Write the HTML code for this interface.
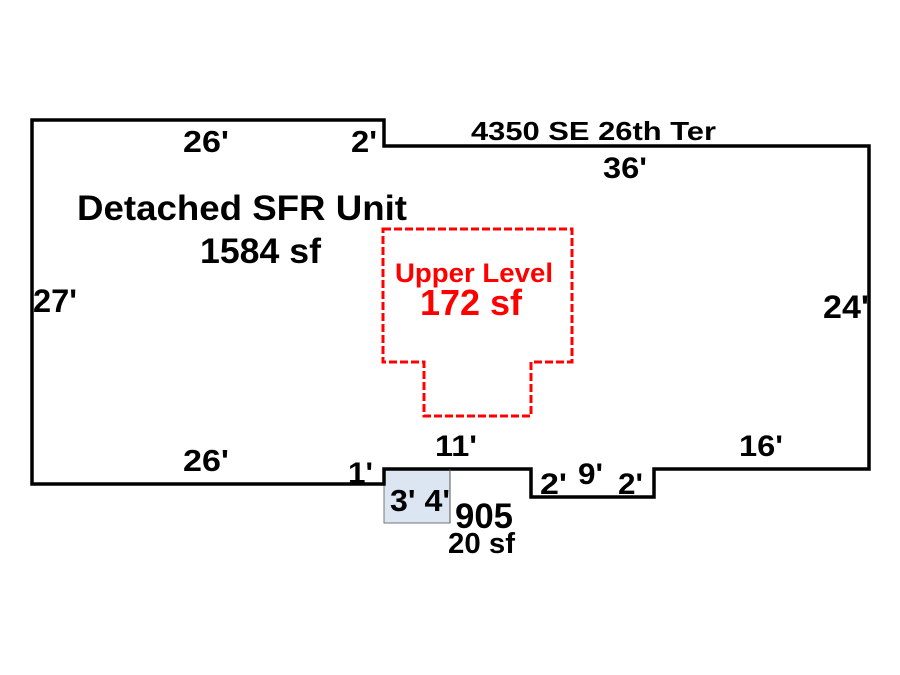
<!DOCTYPE html>
<html><head><style>html,body{margin:0;padding:0;background:#fff;}svg{display:block}</style></head>
<body>
<svg width="900" height="675" viewBox="0 0 900 675" xmlns="http://www.w3.org/2000/svg" font-family="Liberation Sans, Arial, sans-serif" font-weight="bold">
<rect width="900" height="675" fill="#fff"/>
<rect x="384" y="469" width="66" height="54" fill="#dce6f2" stroke="#777" stroke-width="1"/>
<polygon points="32,120 384,120 384,146 869,146 869,469 654,469 654,497 531,497 531,469 384,469 384,484 32,484" fill="none" stroke="#000" stroke-width="3.5" stroke-linejoin="miter"/>
<line x1="450" y1="469" x2="450" y2="523" stroke="#555" stroke-width="1"/>
<polygon points="383,229 572,229 572,362 531,362 531,416 424,416 424,362 383,362" fill="none" stroke="#f00" stroke-width="3" stroke-dasharray="8,3"/>
<g fill="#000">
<text x="183" y="152" font-size="31" textLength="46" lengthAdjust="spacingAndGlyphs">26'</text>
<text x="351" y="152" font-size="31" textLength="26" lengthAdjust="spacingAndGlyphs">2'</text>
<text x="471" y="140" font-size="26" textLength="245" lengthAdjust="spacingAndGlyphs">4350 SE 26th Ter</text>
<text x="603" y="178" font-size="30" textLength="44" lengthAdjust="spacingAndGlyphs">36'</text>
<text x="77" y="220" font-size="35" textLength="330" lengthAdjust="spacingAndGlyphs">Detached SFR Unit</text>
<text x="200" y="263" font-size="35" textLength="121" lengthAdjust="spacingAndGlyphs">1584 sf</text>
<text x="33" y="312" font-size="32" textLength="44" lengthAdjust="spacingAndGlyphs">27'</text>
<text x="823" y="318" font-size="32" textLength="46" lengthAdjust="spacingAndGlyphs">24'</text>
<text x="183" y="471" font-size="31" textLength="46" lengthAdjust="spacingAndGlyphs">26'</text>
<text x="435" y="456" font-size="30" textLength="42" lengthAdjust="spacingAndGlyphs">11'</text>
<text x="739" y="456" font-size="30" textLength="44" lengthAdjust="spacingAndGlyphs">16'</text>
<text x="348" y="483" font-size="30" textLength="25" lengthAdjust="spacingAndGlyphs">1'</text>
<text x="390" y="511" font-size="31" textLength="60" lengthAdjust="spacingAndGlyphs">3' 4'</text>
<text x="455" y="528" font-size="35" textLength="58" lengthAdjust="spacingAndGlyphs">905</text>
<text x="448" y="553" font-size="29" textLength="67" lengthAdjust="spacingAndGlyphs">20 sf</text>
<text x="540" y="494" font-size="30" textLength="27" lengthAdjust="spacingAndGlyphs">2'</text>
<text x="578" y="484" font-size="30" textLength="25" lengthAdjust="spacingAndGlyphs">9'</text>
<text x="618" y="494" font-size="30" textLength="25" lengthAdjust="spacingAndGlyphs">2'</text>
</g>
<g fill="#f00">
<text x="395" y="282" font-size="27" textLength="158" lengthAdjust="spacingAndGlyphs">Upper Level</text>
<text x="420" y="315" font-size="36" textLength="102" lengthAdjust="spacingAndGlyphs">172 sf</text>
</g>
</svg>
</body></html>
